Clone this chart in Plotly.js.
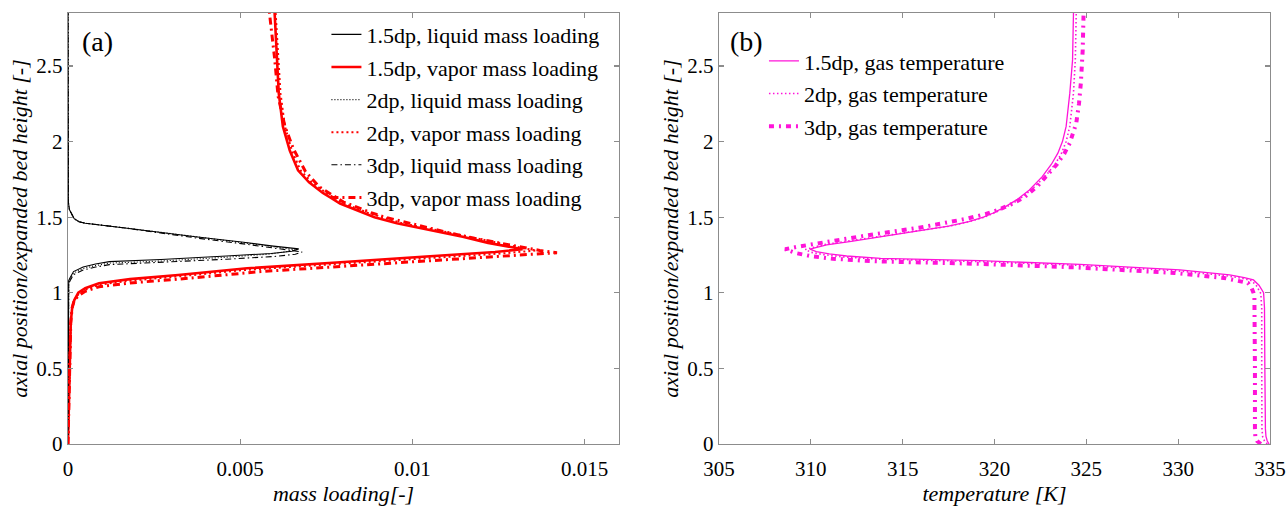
<!DOCTYPE html>
<html>
<head>
<meta charset="utf-8">
<script src="https://cdn.plot.ly/plotly-3.0.1.min.js"></script>
<style>html,body{margin:0;padding:0;background:#fff;}</style>
</head>
<body>
<div id="chart" style="width:1287px;height:506px;"></div>
<script>
// ---------- panel (a): mass loading vs axial position ----------
const liq15_h = [0, 1.00, 1.08, 1.10, 1.12, 1.14, 1.17, 1.19, 1.206, 1.22, 1.243, 1.26, 1.275, 1.29, 1.31, 1.334, 1.37, 1.40, 1.43, 1.46, 1.47, 1.49, 1.52, 1.55, 1.6, 2.85];
const liq15_v = [0, 0, 0.00002, 0.00006, 0.0001, 0.00016, 0.00044, 0.0008, 0.0012, 0.0027, 0.0046, 0.0059, 0.0065, 0.0067, 0.0059, 0.0051, 0.0037, 0.0027, 0.0016, 0.0005, 0.00032, 0.00018, 0.0001, 0.00004, 0.00001, 0];

const liq2_h = [0, 1.00, 1.07, 1.09, 1.11, 1.13, 1.16, 1.18, 1.196, 1.21, 1.235, 1.255, 1.27, 1.285, 1.31, 1.334, 1.37, 1.40, 1.43, 1.46, 1.47, 1.49, 1.52, 1.55, 1.6, 2.85];
const liq2_v = [0, 0, 0.00002, 0.00006, 0.0001, 0.00016, 0.00044, 0.0008, 0.0012, 0.0027, 0.0046, 0.0058, 0.0063, 0.0066, 0.0058, 0.0050, 0.0037, 0.0027, 0.0016, 0.0005, 0.00032, 0.00018, 0.0001, 0.00004, 0.00001, 0];

const liq3_h = [0, 0.98, 1.06, 1.08, 1.10, 1.12, 1.15, 1.17, 1.186, 1.20, 1.222, 1.24, 1.255, 1.27, 1.29, 1.32, 1.36, 1.395, 1.43, 1.46, 1.47, 1.49, 1.52, 1.55, 1.6, 2.85];
const liq3_v = [0, 0, 0.00002, 0.00006, 0.0001, 0.00016, 0.00044, 0.0008, 0.0012, 0.0027, 0.0046, 0.0060, 0.0066, 0.0068, 0.0062, 0.0052, 0.0038, 0.0027, 0.0016, 0.0005, 0.00032, 0.00018, 0.0001, 0.00004, 0.00001, 0];

const vap15_h = [0, 0.3, 0.6, 0.8, 0.9, 0.95, 1.0, 1.03, 1.063, 1.09, 1.118, 1.14, 1.162, 1.20, 1.24, 1.27, 1.288, 1.30, 1.33, 1.37, 1.415, 1.46, 1.50, 1.53, 1.56, 1.59, 1.625, 1.66, 1.73, 1.81, 1.94, 2.10, 2.32, 2.65, 2.85];
const vap15_v = [0, 0.00003, 0.00005, 0.00008, 0.00012, 0.00018, 0.0003, 0.0005, 0.0009, 0.0018, 0.0032, 0.0042, 0.0052, 0.0078, 0.0105, 0.0124, 0.0132, 0.0129, 0.0122, 0.01146, 0.0105, 0.00955, 0.0089, 0.00856, 0.0082, 0.0079, 0.00765, 0.0074, 0.0070, 0.00668, 0.00644, 0.00624, 0.00612, 0.00605, 0.0060];

const vap2_h = [0, 0.3, 0.6, 0.8, 0.9, 0.95, 0.99, 1.02, 1.053, 1.08, 1.108, 1.13, 1.152, 1.19, 1.23, 1.26, 1.28, 1.295, 1.33, 1.37, 1.415, 1.46, 1.50, 1.53, 1.56, 1.59, 1.625, 1.66, 1.73, 1.81, 1.94, 2.10, 2.32, 2.65, 2.85];
const vap2_v = [0, 0.00003, 0.00005, 0.00008, 0.00012, 0.00018, 0.0003, 0.0005, 0.0009, 0.0018, 0.0032, 0.0042, 0.0052, 0.0078, 0.0106, 0.0126, 0.0136, 0.0132, 0.0125, 0.0117, 0.0107, 0.0097, 0.0091, 0.0087, 0.00835, 0.0080, 0.00775, 0.0075, 0.00708, 0.00675, 0.0065, 0.0063, 0.00617, 0.00608, 0.00603];

const vap3_h = [0, 0.3, 0.6, 0.8, 0.9, 0.95, 0.98, 1.01, 1.04, 1.065, 1.09, 1.115, 1.14, 1.18, 1.22, 1.25, 1.265, 1.28, 1.32, 1.36, 1.40, 1.46, 1.50, 1.53, 1.565, 1.60, 1.65, 1.70, 1.80, 1.95, 2.10, 2.30, 2.55, 2.85];
const vap3_v = [0, 0.00003, 0.00005, 0.00008, 0.00012, 0.00018, 0.0003, 0.0005, 0.0009, 0.0018, 0.0032, 0.0044, 0.0056, 0.0083, 0.0112, 0.0133, 0.0142, 0.0137, 0.0127, 0.0118, 0.0110, 0.0099, 0.0092, 0.0088, 0.0084, 0.0080, 0.00765, 0.0073, 0.0069, 0.00655, 0.0063, 0.0061, 0.0060, 0.00585];

// ---------- panel (b): gas temperature vs axial position ----------
const t15_h = [0, 0.02, 0.05, 0.1, 0.5, 0.9, 1.0, 1.02, 1.05, 1.085, 1.10, 1.118, 1.151, 1.188, 1.212, 1.228, 1.243, 1.257, 1.272, 1.288, 1.30, 1.316, 1.34, 1.371, 1.41, 1.44, 1.47, 1.50, 1.526, 1.57, 1.614, 1.68, 1.768, 1.85, 1.923, 2.0, 2.10, 2.2, 2.32, 2.54, 2.85];
const t15_T = [334.95, 334.85, 334.78, 334.75, 334.72, 334.7, 334.65, 334.55, 334.4, 334.1, 333.6, 332.8, 330.1, 324.65, 319.2, 313.8, 311.95, 311.0, 310.3, 309.95, 310.3, 310.86, 312.2, 313.8, 316.0, 317.5, 318.6, 319.4, 319.9, 320.6, 321.2, 321.9, 322.6, 323.1, 323.45, 323.7, 323.9, 324.0, 324.1, 324.25, 324.3];

const t2_h = [0, 0.02, 0.05, 0.1, 0.5, 0.9, 0.995, 1.015, 1.045, 1.08, 1.095, 1.113, 1.146, 1.183, 1.207, 1.223, 1.238, 1.252, 1.268, 1.286, 1.30, 1.318, 1.343, 1.373, 1.412, 1.44, 1.47, 1.50, 1.526, 1.57, 1.614, 1.68, 1.768, 1.85, 1.923, 2.0, 2.10, 2.2, 2.32, 2.54, 2.85];
const t2_T = [334.85, 334.7, 334.6, 334.56, 334.55, 334.55, 334.5, 334.42, 334.27, 334.0, 333.5, 332.6, 329.9, 324.4, 319.0, 313.6, 311.7, 310.7, 310.0, 309.7, 310.1, 310.7, 312.1, 313.7, 316.0, 317.5, 318.6, 319.45, 319.95, 320.7, 321.3, 322.0, 322.75, 323.3, 323.65, 323.9, 324.1, 324.2, 324.3, 324.4, 324.45];

const t3_h = [0, 0.02, 0.05, 0.1, 0.5, 0.9, 0.98, 1.0, 1.03, 1.065, 1.08, 1.098, 1.131, 1.168, 1.192, 1.208, 1.225, 1.242, 1.262, 1.288, 1.305, 1.325, 1.355, 1.39, 1.43, 1.46, 1.49, 1.52, 1.548, 1.59, 1.63, 1.70, 1.77, 1.85, 1.92, 1.99, 2.12, 2.25, 2.385, 2.6, 2.85];
const t3_T = [334.5, 334.3, 334.2, 334.18, 334.18, 334.18, 334.15, 334.1, 334.0, 333.8, 333.3, 332.5, 329.8, 324.4, 319.0, 313.5, 311.2, 310.0, 309.2, 308.6, 309.3, 310.3, 311.9, 313.6, 315.9, 317.3, 318.5, 319.5, 320.2, 321.0, 321.6, 322.3, 322.8, 323.4, 323.8, 324.1, 324.45, 324.6, 324.7, 324.8, 324.85];

// ---------- labels ----------
const namesA = ["1.5dp, liquid mass loading", "1.5dp, vapor mass loading", "2dp, liquid mass loading",
                "2dp, vapor mass loading", "3dp, liquid mass loading", "3dp, vapor mass loading"];
const namesB = ["1.5dp, gas temperature", "2dp, gas temperature", "3dp, gas temperature"];
const xTickValsA = [0, 0.005, 0.01, 0.015];
const xTickTextA = ["0", "0.005", "0.01", "0.015"];
const xTickValsB = [305, 310, 315, 320, 325, 330, 335];
const xTickTextB = ["305", "310", "315", "320", "325", "330", "335"];
const yTickVals = [0, 0.5, 1, 1.5, 2, 2.5];
const yTickText = ["0", "0.5", "1", "1.5", "2", "2.5"];

const FONT = "Liberation Serif";
const RED = "#ff0000";
const MAG = "#ff14d9";

function tr(x, y, name, color, width, dash, xa, ya, leg, grp) {
  return {x: x, y: y, name: name, type: "scatter", mode: "lines",
          line: {color: color, width: width, dash: dash},
          xaxis: xa, yaxis: ya, legend: leg, legendgroup: grp, hoverinfo: "skip"};
}

const data = [
  tr(liq15_v, liq15_h, namesA[0], "#000000", 1.1, "solid", "x", "y", "legend", "a1"),
  tr(vap15_v, vap15_h, namesA[1], RED, 2.6, "solid", "x", "y", "legend", "a2"),
  tr(liq2_v, liq2_h, namesA[2], "#000000", 1.1, "1px,2px", "x", "y", "legend", "a3"),
  tr(vap2_v, vap2_h, namesA[3], RED, 2, "2px,3px", "x", "y", "legend", "a4"),
  tr(liq3_v, liq3_h, namesA[4], "#000000", 1.1, "6px,3px,1.5px,3px", "x", "y", "legend", "a5"),
  tr(vap3_v, vap3_h, namesA[5], RED, 3, "7px,4px,2px,4px", "x", "y", "legend", "a6"),
  tr(t15_T, t15_h, namesB[0], MAG, 1.3, "solid", "x2", "y2", "legend2", "b1"),
  tr(t2_T, t2_h, namesB[1], MAG, 1.6, "1.5px,2.5px", "x2", "y2", "legend2", "b2"),
  tr(t3_T, t3_h, namesB[2], MAG, 4, "5px,5px,2px,5px", "x2", "y2", "legend2", "b3")
];

const titleFont = {family: FONT, size: 22, color: "#000", style: "italic"};
const axisCommon = {
  showline: true, linecolor: "#8c8c8c", linewidth: 1.2, mirror: "allticks",
  ticks: "inside", ticklen: 5, tickwidth: 1.2, tickcolor: "#8c8c8c",
  showgrid: false, zeroline: false, fixedrange: true,
  tickfont: {family: FONT, size: 21, color: "#000"}
};
function ax(extra) { return Object.assign({}, axisCommon, extra); }

const layout = {
  width: 1287, height: 506,
  font: {family: FONT, size: 21, color: "#000"},
  margin: {l: 68, r: 17, t: 13, b: 62},
  paper_bgcolor: "#fff", plot_bgcolor: "#fff",
  showlegend: true,
  xaxis: ax({domain: [0, 0.4584], range: [0, 0.016], anchor: "y",
             tickmode: "array", tickvals: xTickValsA, ticktext: xTickTextA, ticklabelstandoff: 6,
             title: {text: "mass loading[-]", font: titleFont, standoff: 1}}),
  yaxis: ax({domain: [0, 1], range: [0, 2.85], anchor: "x",
             tickmode: "array", tickvals: yTickVals, ticktext: yTickText,
             title: {text: "axial position/expanded bed height [-]", font: titleFont, standoff: 2}}),
  xaxis2: ax({domain: [0.5416, 1], range: [305, 335], anchor: "y2",
             tickmode: "array", tickvals: xTickValsB, ticktext: xTickTextB, ticklabelstandoff: 6,
             title: {text: "temperature [K]", font: titleFont, standoff: 1}}),
  yaxis2: ax({domain: [0, 1], range: [0, 2.85], anchor: "x2",
             tickmode: "array", tickvals: yTickVals, ticktext: yTickText,
             title: {text: "axial position/expanded bed height [-]", font: titleFont, standoff: 2}}),
  legend: {x: 0.215, y: 0.9986, xanchor: "left", yanchor: "top", bgcolor: "rgba(0,0,0,0)",
           borderwidth: 0, font: {family: FONT, size: 22, color: "#000"}, tracegroupgap: 1, itemwidth: 30},
  legend2: {x: 0.579, y: 0.937, xanchor: "left", yanchor: "top", bgcolor: "rgba(0,0,0,0)",
           borderwidth: 0, font: {family: FONT, size: 22, color: "#000"}, tracegroupgap: 1, itemwidth: 30},
  annotations: [
    {text: "(a)", xref: "paper", yref: "paper", x: 0.0245, y: 0.935, xanchor: "center", yanchor: "middle",
     showarrow: false, font: {family: FONT, size: 28, color: "#000"}},
    {text: "(b)", xref: "paper", yref: "paper", x: 0.5645, y: 0.935, xanchor: "center", yanchor: "middle",
     showarrow: false, font: {family: FONT, size: 28, color: "#000"}}
  ]
};

Plotly.newPlot("chart", data, layout, {displayModeBar: false, staticPlot: true});
</script>
</body>
</html>
